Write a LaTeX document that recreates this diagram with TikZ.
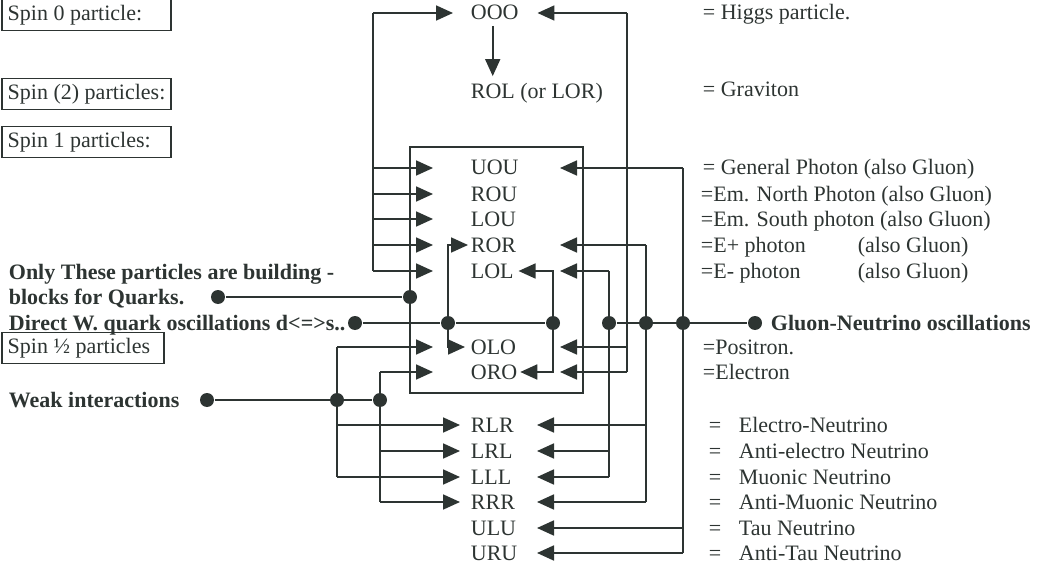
\documentclass[tikz,border=0pt]{standalone}
\usepackage{fontspec}
\setmainfont{Liberation Serif}
\usetikzlibrary{arrows.meta}
\definecolor{ink}{RGB}{45,52,50}

\begin{document}
\begin{tikzpicture}[x = 1pt, y = -1pt, line width = 1.8pt, color = ink,
                      every node/.style = {font = \fontsize{22}{26}\selectfont},
                      row/.style = {anchor = west, inner sep = 0pt, text height = 14pt, text depth = 0pt},
                      note/.style = {anchor = west, inner sep = 0pt, text height = 14pt, text depth = 0pt},
                      heavy/.style = {note, font = \fontsize{22}{26}\selectfont\bfseries},
                      spin/.style = {draw, anchor = west, inner xsep = 6pt, minimum height = 31pt, line width = 1.5pt},
                      arr/.style = {-{Triangle[length = 17pt, width = 15pt]}},
                      dot/.style = {circle, fill = ink, inner sep = 0pt, minimum size = 14pt}]
    \useasboundingbox (0, 0) rectangle (1037, 567);

    \node [spin] (spin0) at (1, 15){\makebox[157pt][l]{Spin 0 particle:}};
    \node [spin] (spin2) at (1, 94){\makebox[157pt][l]{Spin (2) particles:}};
    \node [spin] (spin1) at (1, 142){\makebox[157pt][l]{Spin 1 particles:}};
    \node [spin] (spinhalf) at (1, 348){\makebox[150pt][l]{Spin ½ particles}};

    \node [heavy] (only) at (8, 272){Only These particles are building -};
    \node [heavy] (blocks) at (8, 297){blocks for Quarks.};
    \node [heavy] (direct) at (8, 323){Direct W. quark oscillations d<=>s..};
    \node [heavy] (weak) at (8, 400){Weak interactions};
    \node [heavy] (gluon) at (770, 323){Gluon-Neutrino oscillations};

    \node [row] (OOO) at (470, 13){OOO};
    \node [row] (ROL) at (470, 92){ROL (or LOR)};
    \node [row] (UOU) at (470, 168){UOU};
    \node [row] (ROU) at (470, 194){ROU};
    \node [row] (LOU) at (470, 219){LOU};
    \node [row] (ROR) at (470, 245){ROR};
    \node [row] (LOL) at (470, 271){LOL};
    \node [row] (OLO) at (470, 347){OLO};
    \node [row] (ORO) at (470, 372){ORO};
    \node [row] (RLR) at (470, 425){RLR};
    \node [row] (LRL) at (470, 451){LRL};
    \node [row] (LLL) at (470, 477){LLL};
    \node [row] (RRR) at (470, 502){RRR};
    \node [row] (ULU) at (470, 528){ULU};
    \node [row] (URU) at (470, 553){URU};

    \node [note] (higgs) at (702, 13){= Higgs particle.};
    \node [note] (graviton) at (702, 90){= Graviton};
    \node [note] (general) at (702, 168){= General Photon (also Gluon)};
    \node [note] (north) at (700, 194){=Em. North Photon (also Gluon)};
    \node [note] (south) at (700, 219){=Em. South photon (also Gluon)};
    \node [note] (eplus) at (700, 245){\makebox[157pt][l]{=E+ photon}(also Gluon)};
    \node [note] (eminus) at (700, 271){\makebox[157pt][l]{=E- photon}(also Gluon)};
    \node [note] (positron) at (702, 347){=Positron.};
    \node [note] (electron) at (702, 372){=Electron};
    \node [note] (enu) at (708, 425){\makebox[30pt][l]{=}Electro-Neutrino};
    \node [note] (aenu) at (708, 451){\makebox[30pt][l]{=}Anti-electro Neutrino};
    \node [note] (munu) at (708, 477){\makebox[30pt][l]{=}Muonic Neutrino};
    \node [note] (amunu) at (708, 502){\makebox[30pt][l]{=}Anti-Muonic Neutrino};
    \node [note] (taunu) at (708, 528){\makebox[30pt][l]{=}Tau Neutrino};
    \node [note] (ataunu) at (708, 553){\makebox[30pt][l]{=}Anti-Tau Neutrino};

    \coordinate (boxNW) at (410, 147);
    \coordinate (boxSE) at (583, 393);
    \draw [line width = 1.5pt] (boxNW) rectangle (boxSE);

    \coordinate (lbus) at (373, 0);
    \coordinate (tbus) at (627, 0);
    \coordinate (ltip) at (433, 0);
    \coordinate (rtip) at (560, 0);
    \coordinate (btip) at (460, 0);
    \coordinate (ctip) at (537, 0);

    \node [dot] (dQ1) at (218, 297){};
    \node [dot] (dQ2) at (410, 297){};
    \node [dot] (dW1) at (355, 323){};
    \node [dot] (dW2) at (448, 323){};
    \node [dot] (dW3) at (553, 323){};
    \node [dot] (dG1) at (609, 323){};
    \node [dot] (dG2) at (646, 323){};
    \node [dot] (dG3) at (683, 323){};
    \node [dot] (dG4) at (755, 323){};
    \node [dot] (dE1) at (207, 400){};
    \node [dot] (dE2) at (337, 400){};
    \node [dot] (dE3) at (380, 400){};

    \draw (lbus |- OOO) -- (lbus |- LOL);
    \draw [arr] (lbus |- OOO) -- ([xshift = -17pt]OOO.west);
    \foreach \r in {UOU, ROU, LOU, ROR, LOL}
        \draw [arr] (lbus |- \r) -- (ltip |- \r);

    \draw (tbus |- OOO) -- (tbus |- ORO);
    \draw [arr] (tbus |- OOO) -- ([xshift = 18pt]OOO.east);
    \draw [arr] (tbus |- OLO) -- (rtip |- OLO);
    \draw [arr] (tbus |- ORO) -- (rtip |- ORO);

    \draw [arr, shorten <= 5pt, shorten >= 8pt] ([xshift = -2pt]OOO.south) -- ([xshift = -2pt]OOO.south |- ROL.north);

    \draw (dQ1) -- (dQ2);
    \draw (dW1) -- (dW2) -- (dW3);
    \draw [arr] (dW2.center) |- ([xshift = -2pt]ROR.west);
    \draw [arr] (dW2.center) |- ([xshift = -5pt]OLO.west);
    \draw [arr] (dW3.center) |- ([xshift = 4pt]LOL.east);
    \draw [arr] (dW3.center) |- ([xshift = 2pt]ORO.east);

    \draw (dG1) -- (dG4);
    \draw (dG1 |- LOL) -- (dG1 |- LLL);
    \draw [arr] (dG1 |- LOL) -- (rtip |- LOL);
    \draw [arr] (dG1 |- LRL) -- (ctip |- LRL);
    \draw [arr] (dG1 |- LLL) -- (ctip |- LLL);
    \draw (dG2 |- ROR) -- (dG2 |- RRR);
    \draw [arr] (dG2 |- ROR) -- (rtip |- ROR);
    \draw [arr] (dG2 |- RLR) -- (ctip |- RLR);
    \draw [arr] (dG2 |- RRR) -- (ctip |- RRR);
    \draw (dG3 |- UOU) -- (dG3 |- URU);
    \draw [arr] (dG3 |- UOU) -- (rtip |- UOU);
    \draw [arr] (dG3 |- ULU) -- (ctip |- ULU);
    \draw [arr] (dG3 |- URU) -- (ctip |- URU);

    \draw (dE1) -- (dE3);
    \draw (dE2 |- OLO) -- (dE2 |- LLL);
    \draw [arr] (dE2 |- OLO) -- (ltip |- OLO);
    \draw [arr] (dE2 |- RLR) -- (btip |- RLR);
    \draw [arr] (dE2 |- LLL) -- (btip |- LLL);
    \draw (dE3 |- ORO) -- (dE3 |- RRR);
    \draw [arr] (dE3 |- ORO) -- (ltip |- ORO);
    \draw [arr] (dE3 |- LRL) -- (btip |- LRL);
    \draw [arr] (dE3 |- RRR) -- (btip |- RRR);
    \end{tikzpicture}
\end{document}
